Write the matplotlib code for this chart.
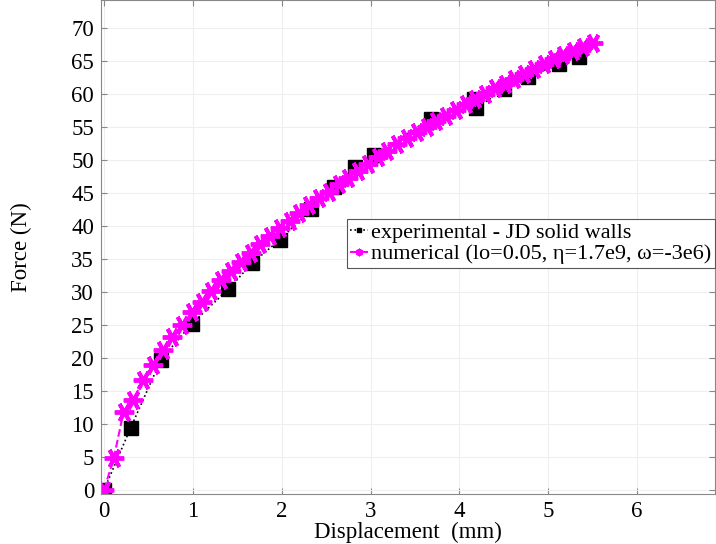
import numpy as np
import matplotlib
matplotlib.use("Agg")
import matplotlib.pyplot as plt

plt.rcParams["font.family"] = ["Liberation Serif", "DejaVu Serif"]

# experimental (JD solid walls)
exp_disp = [0.0, 0.30, 0.64, 0.99, 1.40, 1.67, 1.98, 2.33, 2.59, 2.83,
            3.04, 3.68, 4.16, 4.19, 4.50, 4.77, 5.12, 5.35]
exp_force = [0.0, 9.4, 19.7, 25.2, 30.4, 34.4, 37.9, 42.5, 45.9, 48.9,
             50.8, 56.2, 59.2, 57.8, 60.7, 62.5, 64.5, 65.6]

# numerical model
num_disp = [0.00, 0.11, 0.22, 0.33, 0.44, 0.55, 0.66, 0.77, 0.88, 0.99,
            1.10, 1.21, 1.32, 1.43, 1.54, 1.65, 1.76, 1.87, 1.98, 2.09,
            2.20, 2.31, 2.42, 2.53, 2.64, 2.75, 2.86, 2.97, 3.08, 3.19,
            3.30, 3.41, 3.52, 3.63, 3.74, 3.85, 3.96, 4.07, 4.18, 4.29,
            4.40, 4.51, 4.62, 4.73, 4.84, 4.95, 5.06, 5.17, 5.28, 5.39, 5.50]
num_force = [0.0, 4.8, 11.8, 13.6, 16.7, 19.0, 21.2, 23.2, 25.0, 26.9,
             28.5, 30.2, 31.8, 33.2, 34.6, 35.9, 37.2, 38.4, 39.6, 40.8,
             42.0, 43.1, 44.2, 45.2, 46.3, 47.3, 48.3, 49.3, 50.4, 51.4,
             52.4, 53.3, 54.2, 55.0, 55.9, 56.7, 57.6, 58.4, 59.2, 60.0,
             60.8, 61.5, 62.3, 63.0, 63.7, 64.5, 65.2, 65.9, 66.5, 67.1, 67.7]

x_ticks = [0, 1, 2, 3, 4, 5, 6]
y_ticks = list(range(0, 75, 5))

fig = plt.figure(figsize=(7.16, 5.44), dpi=100)
ax = fig.add_axes([0.141, 0.092, 0.858, 0.908])

ax.plot(exp_disp, exp_force, color="black", ls=":", lw=1.2,
        marker="s", ms=10, mfc="black", mec="black",
        label="experimental - JD solid walls")
ax.plot(num_disp, num_force, color="magenta", ls="--", lw=1.5,
        marker=(6, 2, 90), ms=14, mew=2.8, mec="magenta",
        label="numerical (lo=0.05, \u03b7=1.7e9, \u03c9=-3e6)")

ax.set_xlim(-0.034, 6.88)
ax.set_ylim(-0.6, 74.2)
ax.set_xticks(x_ticks)
ax.set_yticks(y_ticks)
ax.tick_params(direction="in", labelsize=16.5, length=4, color="#888888",
               top=True, right=True, pad=5)
for s in ax.spines.values():
    s.set_color("#888888")
ax.grid(True, color="#eeeeee", lw=0.8)

ax.set_xlabel("Displacement  (mm)", fontsize=16.5, labelpad=0)
ax.set_ylabel("Force (N)", fontsize=16.5, labelpad=28)

leg = ax.legend(loc="upper left", bbox_to_anchor=(0.4, 0.557),
                fontsize=16, markerscale=0.35, handlelength=0.8,
                handletextpad=0.15, borderpad=0.15, labelspacing=0.05,
                fancybox=False, framealpha=1, edgecolor="#555555",
                borderaxespad=0)
leg.get_frame().set_linewidth(0.8)

fig.savefig("out.png", dpi=100)
